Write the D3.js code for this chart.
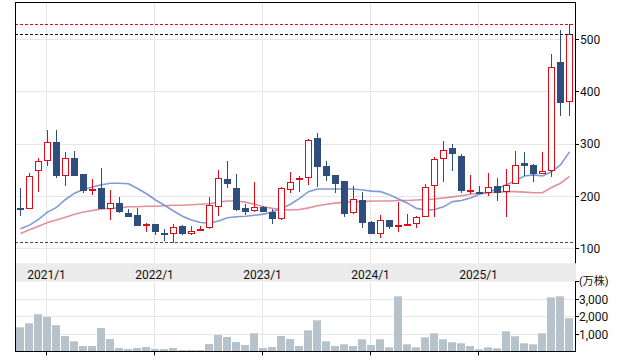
<!DOCTYPE html>
<html><head><meta charset="utf-8">
<script src="https://cdn.jsdelivr.net/npm/d3@7"></script>
<style>body{margin:0;background:#fff}svg{display:block}text{font-family:Roboto,"Noto Sans CJK JP",sans-serif;fill:#111}</style>
</head><body><svg id="c" width="623" height="364"></svg>
<script>
const months = ["2020/10","2020/11","2020/12",
 "2021/1","2021/2","2021/3","2021/4","2021/5","2021/6","2021/7","2021/8","2021/9","2021/10","2021/11","2021/12",
 "2022/1","2022/2","2022/3","2022/4","2022/5","2022/6","2022/7","2022/8","2022/9","2022/10","2022/11","2022/12",
 "2023/1","2023/2","2023/3","2023/4","2023/5","2023/6","2023/7","2023/8","2023/9","2023/10","2023/11","2023/12",
 "2024/1","2024/2","2024/3","2024/4","2024/5","2024/6","2024/7","2024/8","2024/9","2024/10","2024/11","2024/12",
 "2025/1","2025/2","2025/3","2025/4","2025/5","2025/6","2025/7","2025/8","2025/9","2025/10","2025/11"];
const open  = [178,175,248,267,303,238,273,243,211,215,175,187,168,164,143,147,130,129,143,129,133,139,179,234,215,177,172,179,170,156,213,233,236,311,258,241,229,168,193,151,129,155,141,145,147,161,220,271,292,277,209,208,207,220,209,223,263,260,242,248,457,380];
const high  = [216,245,273,327,327,285,287,243,234,254,212,198,176,178,150,148,138,147,145,143,143,198,250,268,243,185,227,182,176,217,246,239,309,321,268,241,230,220,209,153,164,155,190,166,162,224,276,306,300,281,241,220,245,235,252,287,285,262,285,471,518,529];
const low   = [163,175,209,258,236,219,238,207,203,175,155,169,161,144,132,127,115,111,127,127,133,138,163,215,172,165,171,170,148,155,206,209,222,218,230,206,161,167,140,129,121,138,132,145,139,161,161,228,249,207,204,205,201,192,161,223,239,228,242,237,354,354];
const close = [174,238,267,303,238,273,239,211,214,175,187,171,161,144,147,131,126,141,129,133,138,183,236,223,173,170,179,171,157,215,227,236,307,257,238,224,167,194,150,129,154,141,145,147,160,217,271,288,280,210,212,205,217,207,221,259,258,243,248,447,379,510];
const maShort = [138,145,156,170,179,194,206,213,218,222,225,225,224,215,205,193,183,172,162,155,150,149,153,159,161,162,164,166,170,177,185,196,209,214,214,214,214,214,212,210,209,203,195,187,177,174,175,180,190,192,197,204,208,215,222,230,239,241,239,247,260,285];
const maLong  = [129,136,143,150,155,160,166,170,173,176,177,178,180,180,181,181,182,183,183,184,185,186,189,191,191,189,185,180,177,175,174,175,178,182,185,187,189,190,190,191,191,191,192,192,193,194,195,197,199,201,204,206,207,208,209,209,208,207,207,217,225,238];
const volume  = [1400,1630,2150,1990,1520,903,600,331,331,1360,731,217,160,217,274,160,160,217,103,103,103,446,960,846,560,389,1060,217,274,903,731,331,1227,1800,600,331,429,331,714,389,714,257,3171,429,257,829,1057,714,543,486,331,143,257,200,1171,886,486,429,1057,3114,3171,1920];
const priceTicks = [100,200,300,400,500];
const volumeTicks = [1000,2000,3000];
const volumeUnit = "(万株)";
const yearLabels = ["2021/1","2022/1","2023/1","2024/1","2025/1"];

const svg = d3.select("#c");
const L=15, R=575, T=2, bandTop=263.3, bandBot=281.7, volBot=351.5;
const UP="#e00b14", DOWN="#2f4e7e", GRID="#e6e6e6";
const x = d3.scaleBand().domain(months).range([15.8,574.4]);
const cx = m => Math.floor(x(m)+x.bandwidth()/2);
const y = d3.scaleLinear().domain([100,500]).range([248.7,39.3]);
const yv = d3.scaleLinear().domain([0,4000]).range([351.8,281.8]);
const px = v => Math.floor(v)+0.5;

// grid
const g = svg.append("g").attr("stroke",GRID).attr("stroke-width",1);
priceTicks.forEach(t=>g.append("line").attr("x1",L).attr("x2",R).attr("y1",px(y(t))).attr("y2",px(y(t))));
volumeTicks.forEach(t=>g.append("line").attr("x1",L).attr("x2",R).attr("y1",px(yv(t))).attr("y2",px(yv(t))));
yearLabels.forEach(lb=>{
  const xx = cx(lb)-0.5;
  g.append("line").attr("x1",xx).attr("x2",xx).attr("y1",T).attr("y2",bandTop);
  g.append("line").attr("x1",xx).attr("x2",xx).attr("y1",bandBot).attr("y2",volBot);
});

// volume bars
svg.append("g").selectAll("rect").data(volume).join("rect")
  .attr("x",(d,i)=>cx(months[i])-4).attr("width",8)
  .attr("y",d=>yv(d)).attr("height",d=>yv(0)-yv(d)).attr("fill","#b6c3cc");

// moving averages
const line = d3.line().x((d,i)=>cx(months[i])+0.5).y(d=>y(d));
svg.append("path").attr("d",line(maLong)).attr("fill","none").attr("stroke","#de7d8b").attr("stroke-width",1.6).attr("opacity",0.85);
svg.append("path").attr("d",line(maShort)).attr("fill","none").attr("stroke","#7390cf").attr("stroke-width",1.6).attr("opacity",0.9);

// candles
const cg = svg.append("g");
months.forEach((m,i)=>{
  const c = cx(m), up = close[i]>=open[i], col = up?UP:DOWN;
  cg.append("line").attr("x1",c+0.5).attr("x2",c+0.5).attr("y1",Math.round(y(high[i]))).attr("y2",Math.round(y(low[i]))).attr("stroke",col).attr("stroke-width",1);
  const top = Math.round(y(Math.max(open[i],close[i]))), bot = Math.round(y(Math.min(open[i],close[i])));
  if(up){
    cg.append("rect").attr("x",c-2.5).attr("width",6).attr("y",top+0.5).attr("height",Math.max(1,bot-top-1))
      .attr("fill","#fff").attr("stroke",col).attr("stroke-width",1);
  } else {
    cg.append("rect").attr("x",c-3).attr("width",7).attr("y",top).attr("height",Math.max(1,bot-top)).attr("fill",col);
  }
});

// reference dashed lines
const refs = [[d3.max(high),"#e00b14"],[close[close.length-1],"#111"],[d3.min(low),DOWN]];
refs.forEach(([v,c])=>svg.append("line").attr("x1",L).attr("x2",R).attr("y1",px(y(v))).attr("y2",px(y(v)))
  .attr("stroke",c).attr("stroke-width",1).attr("stroke-dasharray","3,2"));

// date band
svg.append("rect").attr("x",L).attr("y",bandTop).attr("width",R-L+1).attr("height",bandBot-bandTop).attr("fill","#ebebeb");
svg.append("g").selectAll("text").data(yearLabels).join("text")
  .attr("x",d=>cx(d)-0.5).attr("y",278.5).attr("text-anchor","middle").attr("font-size",12).text(d=>d);

// frame
const f = svg.append("g").attr("stroke","#000").attr("stroke-width",1);
f.append("line").attr("x1",L).attr("x2",R+1).attr("y1",T+0.5).attr("y2",T+0.5);
f.append("line").attr("x1",L+0.5).attr("x2",L+0.5).attr("y1",T).attr("y2",volBot+0.5);
f.append("line").attr("x1",R+0.5).attr("x2",R+0.5).attr("y1",T).attr("y2",bandTop);
f.append("line").attr("x1",R+0.5).attr("x2",R+0.5).attr("y1",bandBot).attr("y2",volBot+0.5);
f.append("line").attr("x1",L).attr("x2",R+1).attr("y1",volBot).attr("y2",volBot);
priceTicks.forEach(t=>f.append("line").attr("x1",R).attr("x2",R+4).attr("y1",px(y(t))).attr("y2",px(y(t))));
volumeTicks.concat([4000]).forEach(t=>f.append("line").attr("x1",R).attr("x2",R+4).attr("y1",px(yv(t))).attr("y2",px(yv(t))));
yearLabels.forEach(lb=>f.append("line").attr("x1",cx(lb)-0.5).attr("x2",cx(lb)-0.5).attr("y1",volBot).attr("y2",volBot+4));

// axis labels
svg.append("g").selectAll("text").data(priceTicks).join("text")
  .attr("x",580).attr("y",d=>y(d)+4.3).attr("font-size",12).text(d=>d);
svg.append("g").selectAll("text").data(volumeTicks).join("text")
  .attr("x",579).attr("y",d=>yv(d)+4.2).attr("font-size",12).text(d=>d3.format(",")(d));
svg.append("text").attr("x",579).attr("y",285).attr("font-size",11).text(volumeUnit);
</script></body></html>
